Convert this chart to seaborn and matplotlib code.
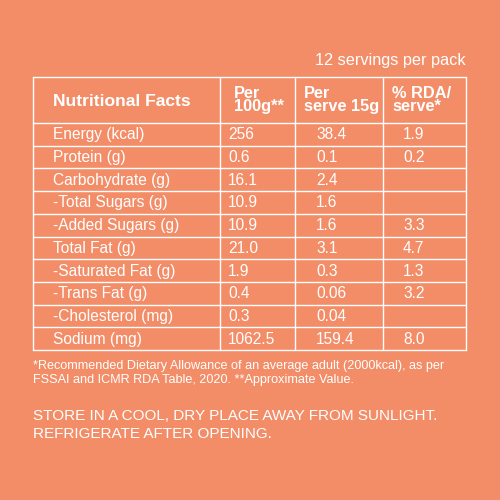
import matplotlib
matplotlib.use("Agg")
import matplotlib.pyplot as plt
import seaborn as sns

sns.set_style("white")
plt.rcParams['font.family'] = ['Liberation Sans', 'DejaVu Sans']

nutrients = ["Energy (kcal)", "Protein (g)", "Carbohydrate (g)", "-Total Sugars (g)",
             "-Added Sugars (g)", "Total Fat (g)", "-Saturated Fat (g)", "-Trans Fat (g)",
             "-Cholesterol (mg)", "Sodium (mg)"]
per100 = ["256", "0.6", "16.1", "10.9", "10.9", "21.0", "1.9", "0.4", "0.3", "1062.5"]
perserve = ["38.4", "0.1", "2.4", "1.6", "1.6", "3.1", "0.3", "0.06", "0.04", "159.4"]
rda = ["1.9", "0.2", "", "", "3.3", "4.7", "1.3", "3.2", "", "8.0"]
headers = ["Nutritional Facts", "Per\n100g**", "Per\nserve 15g", "% RDA/\nserve*"]

bg = "#F38D68"
fig = plt.figure(figsize=(5, 5), dpi=100, facecolor=bg)
ax = fig.add_axes([0, 0, 1, 1])
ax.set_facecolor(bg)
ax.set_xlim(0, 500); ax.set_ylim(500, 0); ax.axis("off")

xs = [33, 220, 295, 383, 466]
top, hb = 77, 123
rh = (350 - hb) / len(nutrients)
ys = [top, hb] + [hb + rh * (i + 1) for i in range(len(nutrients))]
lw = 1.0
for y in ys:
    ax.plot([xs[0], xs[-1]], [y, y], color="white", lw=lw)
for x in xs:
    ax.plot([x, x], [top, ys[-1]], color="white", lw=lw)

ax.text(466, 60, "12 servings per pack", color="white", fontsize=11.7, ha="right", va="center")
ax.text(53, 101, headers[0], color="white", fontsize=12.6, fontweight="bold", va="center")
hx = [234, 304, 392]
for h, x in zip(headers[1:], hx):
    ax.text(x, 100, h, color="white", fontsize=11.8, fontweight="bold", va="center", linespacing=0.9)

cols = [(53, nutrients), (228, per100), (316, perserve), (403, rda)]
for i in range(len(nutrients)):
    yc = hb + rh * (i + 0.5) + 0.5
    for x, arr in cols:
        ax.text(x, yc, arr[i], color="white", fontsize=11.2, va="center")

ax.text(33, 373, "*Recommended Dietary Allowance of an average adult (2000kcal), as per\nFSSAI and ICMR RDA Table, 2020. **Approximate Value.",
        color="white", fontsize=9.1, va="center", linespacing=1.3)
ax.text(33, 425, "STORE IN A COOL, DRY PLACE AWAY FROM SUNLIGHT.\nREFRIGERATE AFTER OPENING.",
        color="white", fontsize=11, va="center", linespacing=1.35)

fig.savefig("out.png", dpi=100, facecolor=bg)
